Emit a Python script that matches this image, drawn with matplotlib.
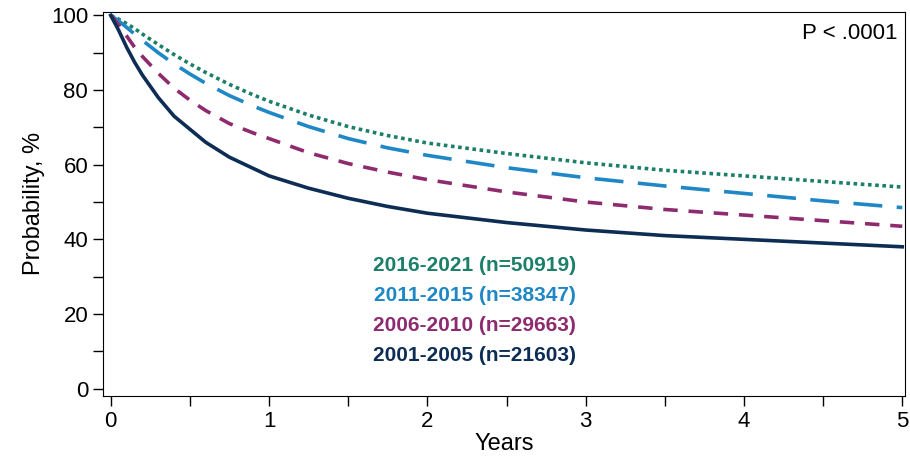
import matplotlib
matplotlib.use('Agg')
import matplotlib.pyplot as plt
from matplotlib.ticker import MultipleLocator

plt.rcParams['font.family'] = ['Liberation Sans', 'DejaVu Sans']

years = [0, 0.05, 0.1, 0.15, 0.2, 0.3, 0.4, 0.5, 0.6, 0.75, 0.9, 1,
         1.25, 1.5, 1.75, 2, 2.5, 3, 3.5, 4, 4.5, 5]
surv_2001 = [100, 96, 91.5, 87.5, 84, 78, 73, 69.5, 66, 62, 59, 57,
             53.7, 51, 48.8, 47, 44.5, 42.5, 41, 40, 39, 38]
surv_2006 = [100, 97.5, 94.5, 91.5, 89, 84.5, 80.5, 77.3, 74.5, 71, 68.5, 67,
             63.2, 60.3, 58, 56, 52.7, 50, 48, 46.5, 45, 43.5]
surv_2011 = [100, 98.5, 96.8, 95, 93.3, 90, 87, 84.3, 81.8, 78.5, 75.7, 74,
             70.2, 67, 64.5, 62.5, 59.2, 56.5, 54.3, 52.3, 50.3, 48.5]
surv_2016 = [100, 99, 97.8, 96.5, 95, 92.2, 89.5, 87, 84.7, 81.5, 78.7, 77,
             73.3, 70.2, 67.8, 65.8, 63, 60.5, 58.5, 57, 55.5, 54]

series = [
    ('2016-2021 (n=50919)', surv_2016, '#1b7f6a', (0, (1, 1))),
    ('2011-2015 (n=38347)', surv_2011, '#1f87c6', (0, (8, 4))),
    ('2006-2010 (n=29663)', surv_2006, '#8e2b6f', (0, (4, 3))),
    ('2001-2005 (n=21603)', surv_2001, '#0d2d55', '-'),
]

fig, ax = plt.subplots(figsize=(9.10, 4.66), dpi=100)
fig.subplots_adjust(left=0.113, right=0.995, top=0.975, bottom=0.15)

for label, vals, color, ls in series:
    ax.plot(years, vals, color=color, linestyle=ls, linewidth=2.6)

for i, (label, vals, color, ls) in enumerate(series):
    ax.text(2.3, 33 - 8 * i, label, color=color, fontsize=15, fontweight='bold',
            ha='center', va='center')

ax.text(0.99, 0.97, 'P < .0001', transform=ax.transAxes, ha='right', va='top',
        fontsize=16)

ax.set_xlim(-0.05, 5.02)
ax.set_ylim(-2, 101)
ax.xaxis.set_major_locator(MultipleLocator(1))
ax.xaxis.set_minor_locator(MultipleLocator(0.5))
ax.yaxis.set_major_locator(MultipleLocator(20))
ax.yaxis.set_minor_locator(MultipleLocator(10))
ax.tick_params(labelsize=16, length=7, width=1)
ax.tick_params(which='minor', length=7, width=1)
ax.set_xlabel('Years', fontsize=17, labelpad=1)
ax.set_ylabel('Probability, %', fontsize=17)

fig.savefig('out.png')
